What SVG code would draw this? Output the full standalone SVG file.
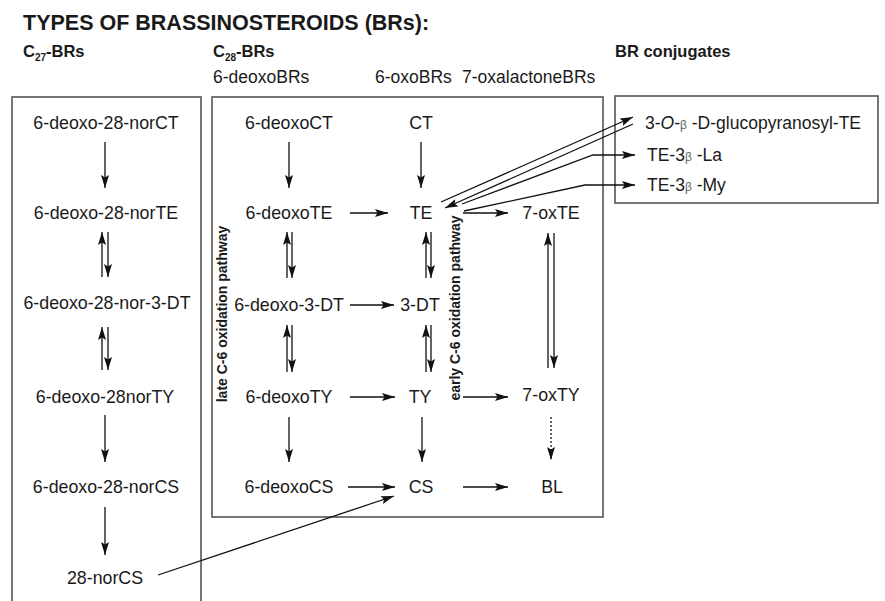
<svg xmlns="http://www.w3.org/2000/svg" width="885" height="601" viewBox="0 0 885 601">
<defs>
<style>
text{font-family:"Liberation Sans",Arial,sans-serif;fill:#1a1a1a}
.n{font-size:17.8px;text-anchor:middle}
.l{font-size:17.5px}
.h{font-size:16.5px;font-weight:bold}
.t{font-size:21.5px;font-weight:bold}
.v{font-size:14px;font-weight:bold;text-anchor:middle}
.box{fill:none;stroke:#555;stroke-width:1.6}
.a{fill:none;stroke:#111;stroke-width:1.3;marker-end:url(#ah)}
.d{fill:none;stroke:#111;stroke-width:1.3;stroke-dasharray:2,2;marker-end:url(#ah)}
</style>
<marker id="ah" markerUnits="userSpaceOnUse" markerWidth="15" markerHeight="9" refX="13" refY="4" orient="auto">
<path d="M0,0 L13,4 L0,8 L2.5,4 z" fill="#111"/>
</marker>
</defs>
<rect width="885" height="601" fill="#fff"/>

<g id="headers">
<text class="t" x="23" y="30">TYPES OF BRASSINOSTEROIDS (BRs):</text>
<text class="h" x="23" y="57">C<tspan font-size="10" dy="4">27</tspan><tspan dy="-4">-BRs</tspan></text>
<text class="h" x="213" y="57">C<tspan font-size="10" dy="4">28</tspan><tspan dy="-4">-BRs</tspan></text>
<text class="h" x="615" y="57">BR conjugates</text>
<text class="l" x="213" y="83">6-deoxoBRs</text>
<text class="l" x="375" y="83">6-oxoBRs</text>
<text class="l" x="462" y="83">7-oxalactoneBRs</text>
</g>

<g id="boxes">
<rect class="box" x="12" y="97" width="189" height="515"/>
<rect class="box" x="212" y="97" width="391" height="420"/>
<rect class="box" x="615" y="96" width="263" height="107"/>
</g>

<g id="n-6-deoxo-28-norCT"><text class="n" x="106" y="129">6-deoxo-28-norCT</text></g>
<g id="n-6-deoxo-28-norTE"><text class="n" x="106" y="219">6-deoxo-28-norTE</text></g>
<g id="n-6-deoxo-28-nor-3-DT"><text class="n" x="107" y="309">6-deoxo-28-nor-3-DT</text></g>
<g id="n-6-deoxo-28norTY"><text class="n" x="105" y="403">6-deoxo-28norTY</text></g>
<g id="n-6-deoxo-28-norCS"><text class="n" x="106" y="493">6-deoxo-28-norCS</text></g>
<g id="n-28-norCS"><text class="n" x="105" y="584">28-norCS</text></g>

<g id="n-6-deoxoCT"><text class="n" x="289" y="129">6-deoxoCT</text></g>
<g id="n-6-deoxoTE"><text class="n" x="289" y="219">6-deoxoTE</text></g>
<g id="n-6-deoxo-3-DT"><text class="n" x="289" y="311">6-deoxo-3-DT</text></g>
<g id="n-6-deoxoTY"><text class="n" x="289" y="403">6-deoxoTY</text></g>
<g id="n-6-deoxoCS"><text class="n" x="289" y="493">6-deoxoCS</text></g>

<g id="n-CT"><text class="n" x="421" y="129">CT</text></g>
<g id="n-TE"><text class="n" x="421" y="219">TE</text></g>
<g id="n-3-DT"><text class="n" x="420" y="311">3-DT</text></g>
<g id="n-TY"><text class="n" x="420" y="403">TY</text></g>
<g id="n-CS"><text class="n" x="421" y="493">CS</text></g>

<g id="n-7-oxTE"><text class="n" x="551" y="219">7-oxTE</text></g>
<g id="n-7-oxTY"><text class="n" x="551" y="401">7-oxTY</text></g>
<g id="n-BL"><text class="n" x="552" y="493">BL</text></g>

<g id="n-glucosyl-TE"><text class="l" x="645" y="129">3-<tspan font-style="italic">O</tspan>-<tspan font-size="12" fill="#666">β</tspan> -D-glucopyranosyl-TE</text></g>
<g id="n-TE-3b-La"><text class="l" x="647" y="161">TE-3<tspan font-size="12" fill="#666">β</tspan> -La</text></g>
<g id="n-TE-3b-My"><text class="l" x="647" y="191">TE-3<tspan font-size="12" fill="#666">β</tspan> -My</text></g>

<g id="pathway-labels">
<text class="v" transform="translate(227,314) rotate(-90)">late C-6 oxidation pathway</text>
<text class="v" transform="translate(460,308) rotate(-90)">early C-6 oxidation pathway</text>
</g>

<g id="connectors">
<line class="a" x1="105" y1="142" x2="105" y2="188"/>
<line class="a" x1="102" y1="277" x2="102" y2="232"/>
<line class="a" x1="108" y1="232" x2="108" y2="277"/>
<line class="a" x1="102" y1="370" x2="102" y2="327"/>
<line class="a" x1="108" y1="327" x2="108" y2="370"/>
<line class="a" x1="105" y1="415" x2="105" y2="462"/>
<line class="a" x1="105" y1="507" x2="105" y2="555"/>
<line class="a" x1="158" y1="575" x2="394" y2="496"/>
<line class="a" x1="289" y1="142" x2="289" y2="188"/>
<line class="a" x1="287" y1="278" x2="287" y2="232"/>
<line class="a" x1="292" y1="232" x2="292" y2="278"/>
<line class="a" x1="287" y1="372" x2="287" y2="325"/>
<line class="a" x1="292" y1="325" x2="292" y2="372"/>
<line class="a" x1="289" y1="417" x2="289" y2="462"/>
<line class="a" x1="350" y1="213" x2="388" y2="213"/>
<line class="a" x1="350" y1="305" x2="394" y2="305"/>
<line class="a" x1="350" y1="397" x2="395" y2="397"/>
<line class="a" x1="348" y1="487" x2="395" y2="487"/>
<line class="a" x1="421" y1="142" x2="421" y2="188"/>
<line class="a" x1="426" y1="278" x2="426" y2="232"/>
<line class="a" x1="431" y1="232" x2="431" y2="278"/>
<line class="a" x1="426" y1="372" x2="426" y2="325"/>
<line class="a" x1="431" y1="325" x2="431" y2="372"/>
<line class="a" x1="422" y1="417" x2="422" y2="462"/>
<line class="a" x1="463" y1="213" x2="508" y2="213"/>
<line class="a" x1="463" y1="397" x2="508" y2="397"/>
<line class="a" x1="463" y1="487" x2="508" y2="487"/>
<line class="a" x1="548" y1="368" x2="548" y2="233"/>
<line class="a" x1="554" y1="233" x2="554" y2="368"/>
<line class="d" x1="551" y1="417" x2="551" y2="460"/>
<line class="a" x1="441" y1="202" x2="633" y2="117"/>
<line class="a" x1="633" y1="124" x2="445" y2="208"/>
<polyline class="a" points="462,204 593,155 635,155"/>
<polyline class="a" points="464,211 585,185 635,185"/>
</g>
</svg>
